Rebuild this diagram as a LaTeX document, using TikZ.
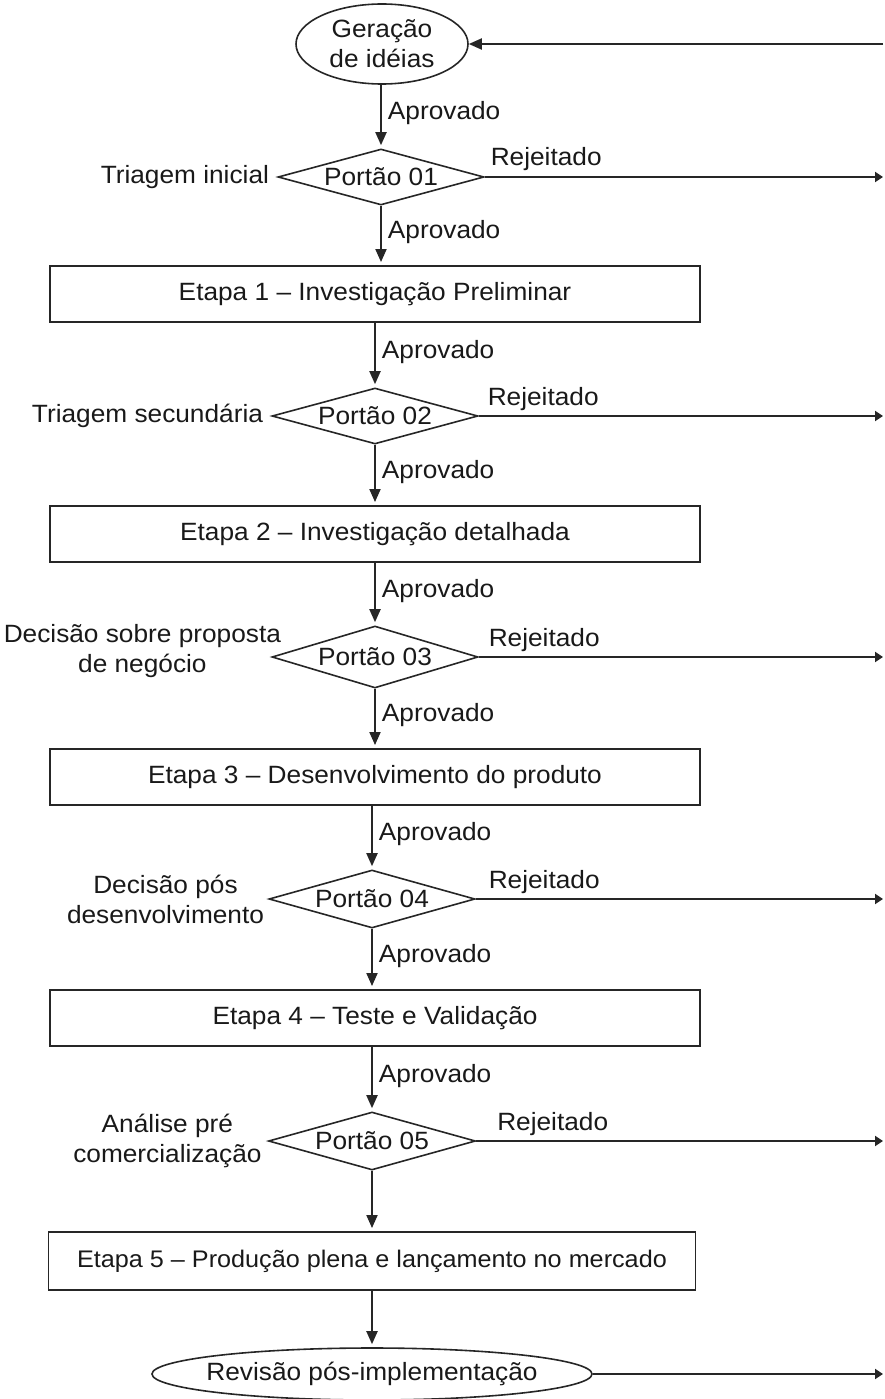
\documentclass[tikz,border=0pt]{standalone}
\usepackage{fontspec}
\setmainfont[FakeStretch=1.05]{Liberation Sans}
\usetikzlibrary{shapes.geometric,arrows.meta,calc}
\begin{document}
\begin{tikzpicture}[x=1pt,y=-1pt,
  every node/.style={font=\fontsize{25}{30}\selectfont, text=black!90},
  conn/.style={line width=1.9pt, draw=black!85},
  arr/.style={conn, -{Triangle[width=11pt,length=13pt]}, shorten >=3pt},
  rarr/.style={conn, -{Triangle[width=10pt,length=8pt]}},
  stage/.style={draw=black!85, line width=1.9pt, minimum width=650pt, minimum height=56pt, inner sep=0pt},
  gate/.style={draw=black!85, diamond, aspect=3.7, line width=1.6pt, minimum width=206pt, minimum height=56pt, inner sep=0pt},
  term/.style={draw=black!85, ellipse, line width=1.6pt, inner sep=0pt, align=center},
  lab/.style={inner sep=0pt},
  oklab/.style={lab, anchor=west, xshift=6pt, pos=0.45},
  rejlab/.style={lab, anchor=base west, pos=0, yshift=11pt},
]
\useasboundingbox (0,0) rectangle (884,1399);
\coordinate (rx) at (883,0);

% main nodes
\node[term, minimum width=172pt, minimum height=80pt] (g0) at (382,44) {Geração\\de idéias};
\node[gate] (d1) at (381,177) {Portão 01};
\node[stage] (e1) at (375,294) {Etapa 1 – Investigação Preliminar};
\node[gate] (d2) at (375,416) {Portão 02};
\node[stage] (e2) at (375,534) {Etapa 2 – Investigação detalhada};
\node[gate, minimum height=62pt] (d3) at (375,657) {Portão 03};
\node[stage] (e3) at (375,777) {Etapa 3 – Desenvolvimento do produto};
\node[gate, minimum height=58pt] (d4) at (372,899) {Portão 04};
\node[stage] (e4) at (375,1018) {Etapa 4 – Teste e Validação};
\node[gate, minimum height=58pt, minimum width=207pt] (d5) at (372,1141) {Portão 05};
\node[stage, minimum width=647pt, minimum height=58pt, font=\fontsize{24}{29}\selectfont] (e5) at (372,1261) {Etapa 5 – Produção plena e lançamento no mercado};
\node[term, minimum width=440pt, minimum height=52pt, inner xsep=-11pt] (g6) at (372,1374) {Revisão pós-implementação};

% left labels
\node[lab, anchor=east] (l1) at ([xshift=-8pt]d1.west) {Triagem inicial};
\node[lab, anchor=east] (l2) at ([xshift=-8pt]d2.west) {Triagem secundária};
\node[lab, anchor=east, align=center] (l3) at ([xshift=10pt,yshift=6pt]d3.west) {Decisão sobre proposta\\de negócio};
\node[lab, anchor=east, align=center] (l4) at ([xshift=-4pt]d4.west) {Decisão pós\\desenvolvimento};
\node[lab, anchor=east, align=center] (l5) at ([xshift=-6pt]d5.west) {Análise pré\\comercialização};

% vertical flow
\draw[arr] (g0.south -| d1.north) -- (d1.north) node[oklab] {Aprovado};
\draw[arr] (d1.south) -- (d1.south |- e1.north) node[oklab] {Aprovado};
\draw[arr] (e1.south -| d2.north) -- (d2.north) node[oklab] {Aprovado};
\draw[arr] (d2.south) -- (d2.south |- e2.north) node[oklab] {Aprovado};
\draw[arr] (e2.south -| d3.north) -- (d3.north) node[oklab] {Aprovado};
\draw[arr] (d3.south) -- (d3.south |- e3.north) node[oklab] {Aprovado};
\draw[arr] (e3.south -| d4.north) -- (d4.north) node[oklab] {Aprovado};
\draw[arr] (d4.south) -- (d4.south |- e4.north) node[oklab] {Aprovado};
\draw[arr] (e4.south -| d5.north) -- (d5.north) node[oklab] {Aprovado};
\draw[arr] (d5.south) -- (d5.south |- e5.north);
\draw[arr] (e5.south -| g6.north) -- (g6.north);

% rejected branches
\draw[rarr] (d1.east) -- (d1.east -| rx) node[rejlab, xshift=5pt] {Rejeitado};
\draw[rarr] (d2.east) -- (d2.east -| rx) node[rejlab, xshift=8pt] {Rejeitado};
\draw[rarr] (d3.east) -- (d3.east -| rx) node[rejlab, xshift=9pt] {Rejeitado};
\draw[rarr] (d4.east) -- (d4.east -| rx) node[rejlab, xshift=12pt] {Rejeitado};
\draw[rarr] (d5.east) -- (d5.east -| rx) node[rejlab, xshift=20pt] {Rejeitado};
\draw[rarr] (g6.east) -- (g6.east -| rx);
\draw[arr, shorten >=0pt] (g0.east -| rx) -- (g0.east);
\end{tikzpicture}
\end{document}
